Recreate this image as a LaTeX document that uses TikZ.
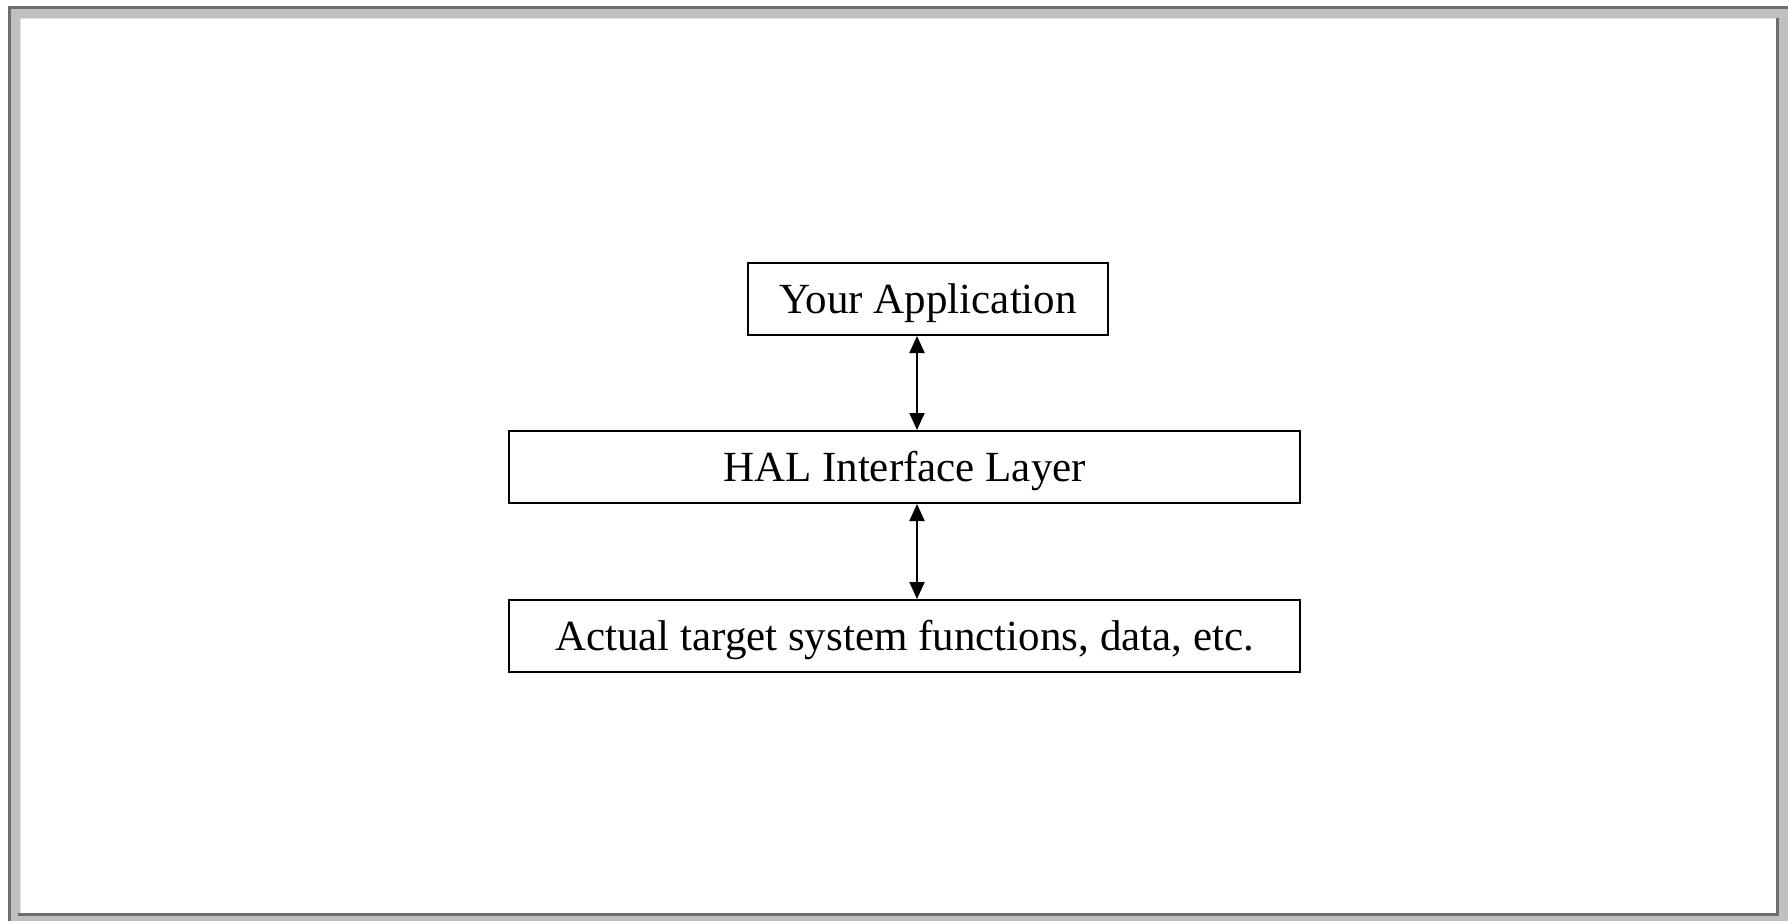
\documentclass[tikz,border=0pt]{standalone}
\usepackage{fontspec}
\setmainfont{Liberation Serif}
\usetikzlibrary{arrows.meta}
\definecolor{framelight}{HTML}{C0C0C0}
\definecolor{framedark}{HTML}{6E6E6E}
\begin{document}
\begin{tikzpicture}[x=0.5pt,y=-0.5pt,
  layerbox/.style={draw=black,line width=1pt,fill=white,inner sep=0pt,
    minimum height=36pt,text height=14.2pt,text depth=0pt,
    font=\fontsize{21.5pt}{25pt}\selectfont},
  link/.style={line width=1pt,{Triangle[length=8.5pt,width=7.5pt]}-{Triangle[length=8.5pt,width=7.5pt]}}]
\useasboundingbox (0,0) rectangle (1788,921);
% window frame
\fill[white] (0,0) rectangle (1788,921);
\fill[framelight] (8,6) rectangle (1788,921);
\fill[white] (20,18) rectangle (1776,913);
\draw[framedark,line width=1.5pt] (9.5,921) -- (9.5,7.5) -- (1788,7.5);
\draw[framedark,line width=1.5pt] (18,914.5) -- (1777.5,914.5) -- (1777.5,18);
\draw[white!88!black,line width=0.5pt] (20.5,913) -- (20.5,18.5) -- (1776,18.5);
% layers
\node[layerbox,minimum width=180pt] (app) at (928,299) {Your Application};
\node[layerbox,minimum width=395.5pt] (hal) at (904.5,467) {HAL Interface Layer};
\node[layerbox,minimum width=395.5pt] (act) at (904.5,636) {Actual target system functions, data, etc.};
\coordinate (ax) at (917,0);
\draw[link] (ax |- app.south) -- (ax |- hal.north);
\draw[link] (ax |- hal.south) -- (ax |- act.north);
\end{tikzpicture}
\end{document}
